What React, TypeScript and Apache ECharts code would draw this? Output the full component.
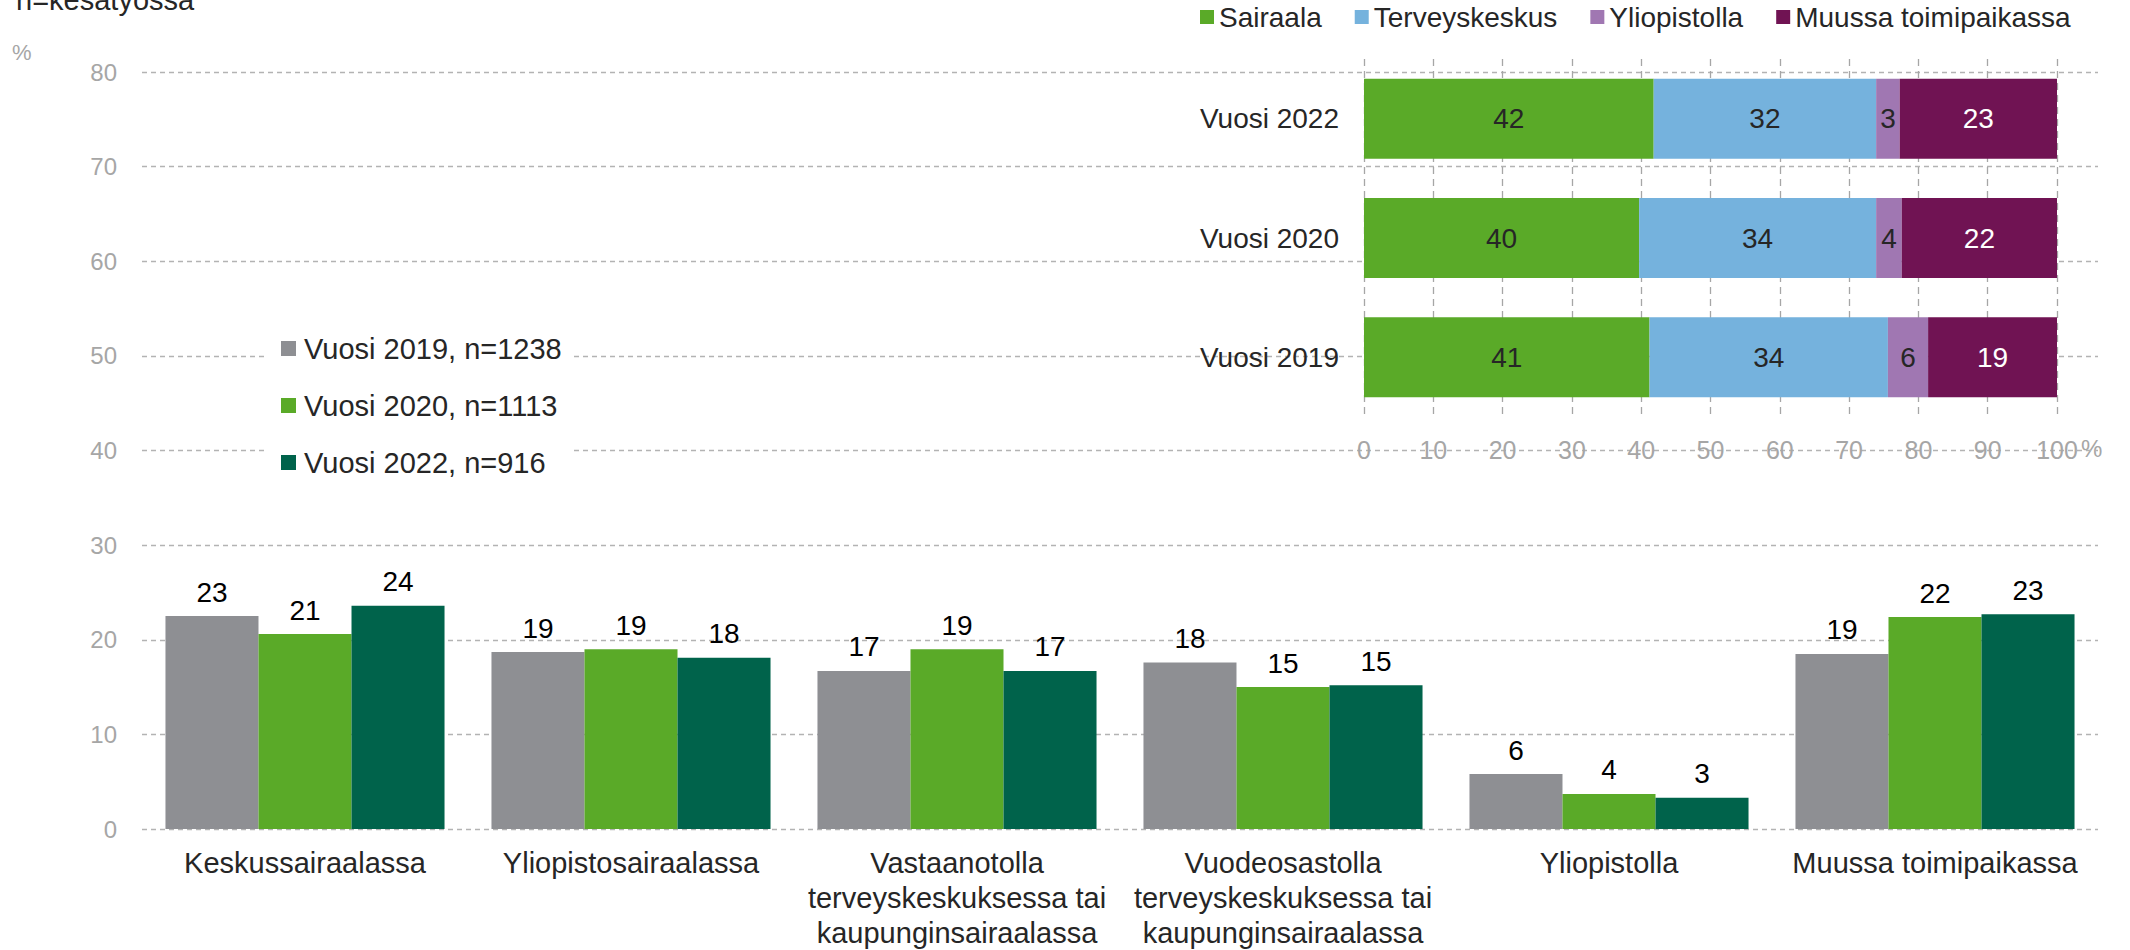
import React, { useEffect, useRef } from "react";
import * as echarts from "echarts";

const FONT = "'Liberation Sans', Arial, sans-serif";

const categories = [
  "Keskussairaalassa",
  "Yliopistosairaalassa",
  "Vastaanotolla\nterveyskeskuksessa tai\nkaupunginsairaalassa",
  "Vuodeosastolla\nterveyskeskuksessa tai\nkaupunginsairaalassa",
  "Yliopistolla",
  "Muussa toimipaikassa",
];
const seriesNames = ["Vuosi 2019, n=1238", "Vuosi 2020, n=1113", "Vuosi 2022, n=916"];
const v2019 = [22.5, 18.7, 16.7, 17.6, 5.8, 18.5];
const v2020 = [20.6, 19.0, 19.0, 15.0, 3.7, 22.4];
const v2022 = [23.6, 18.1, 16.7, 15.2, 3.3, 22.7];
const yTicks = { min: 0, max: 80, interval: 10 };

const insetYears = ["Vuosi 2019", "Vuosi 2020", "Vuosi 2022"];
const insetNames = ["Sairaala", "Terveyskeskus", "Yliopistolla", "Muussa toimipaikassa"];
const sairaala = [41.2, 39.7, 41.8];
const terveyskeskus = [34.4, 34.2, 32.1];
const yliopistolla = [5.8, 3.7, 3.4];
const muussa = [18.6, 22.4, 22.7];
const insetTicks = { min: 0, max: 100, interval: 10 };

const mainColors = ["#8e8f93", "#5aaa28", "#00634b"];
const insetColors = ["#5aaa28", "#75b2dd", "#a077b2", "#701353"];

export default function App() {
  const ref = useRef<HTMLDivElement>(null);
  useEffect(() => {
    if (!ref.current) return;
    const chart = echarts.init(ref.current, null, { renderer: "svg" });
    const mainData = [v2019, v2020, v2022];
    const insetData = [sairaala, terveyskeskus, yliopistolla, muussa];
    const option: any = {
      animation: false,
      backgroundColor: "#ffffff",
      textStyle: { fontFamily: FONT },
      grid: [
        { left: 142, right: 32, top: 72, bottom: 120 },
        { left: 1364, right: 73, top: 59, bottom: 533 },
      ],
      legend: [
        {
          data: seriesNames,
          orient: "vertical",
          left: 267,
          top: 324,
          backgroundColor: "#ffffff",
          padding: [10, 11, 10, 14],
          itemWidth: 15,
          itemHeight: 15,
          itemGap: 28,
          icon: "rect",
          textStyle: {
            fontSize: 29,
            color: "#262626",
            fontFamily: FONT,
            lineHeight: 29,
            padding: [0, 0, 0, 3],
          },
        },
        {
          data: insetNames,
          orient: "horizontal",
          left: 1200,
          top: 3,
          padding: 0,
          itemWidth: 14,
          itemHeight: 14,
          itemGap: 33,
          icon: "rect",
          textStyle: { fontSize: 28, color: "#262626", fontFamily: FONT },
        },
      ],
      xAxis: [
        {
          type: "category",
          gridIndex: 0,
          data: categories,
          axisLine: { show: false },
          axisTick: { show: false },
          axisLabel: {
            interval: 0,
            fontSize: 29,
            lineHeight: 35,
            color: "#262626",
            margin: 16,
            fontFamily: FONT,
          },
        },
        {
          type: "value",
          gridIndex: 1,
          ...insetTicks,
          axisLine: { show: false },
          axisTick: { show: false },
          splitLine: { show: true, lineStyle: { type: [7, 5], color: "#a6a6a6", width: 1.3 } },
          axisLabel: { fontSize: 25, color: "#a6a6a6", margin: 20, fontFamily: FONT },
        },
      ],
      yAxis: [
        {
          type: "value",
          gridIndex: 0,
          ...yTicks,
          axisLine: { show: false },
          axisTick: { show: false },
          axisLabel: { fontSize: 24, color: "#a6a6a6", margin: 25, fontFamily: FONT },
          splitLine: { show: true, lineStyle: { type: [5, 4], color: "#b3b3b3", width: 1.3 } },
        },
        {
          type: "category",
          gridIndex: 1,
          data: insetYears,
          axisLine: { show: false },
          axisTick: { show: false },
          splitLine: { show: false },
          axisLabel: { fontSize: 28, color: "#262626", margin: 25, fontFamily: FONT },
        },
      ],
      graphic: [
        {
          type: "text",
          left: 16,
          top: -15,
          style: { text: "n=kesätyössä", fontSize: 29, fill: "#262626", fontFamily: FONT },
        },
        {
          type: "text",
          left: 12,
          top: 41,
          style: { text: "%", fontSize: 22, fill: "#a6a6a6", fontFamily: FONT },
        },
        {
          type: "text",
          left: 2081,
          top: 436,
          style: { text: "%", fontSize: 24, fill: "#a6a6a6", fontFamily: FONT },
        },
      ],
      series: [
        ...seriesNames.map((name, i) => ({
          name,
          type: "bar",
          xAxisIndex: 0,
          yAxisIndex: 0,
          data: mainData[i],
          barGap: "0%",
          barCategoryGap: "14.4%",
          itemStyle: { color: mainColors[i] },
          label: {
            show: true,
            position: "top",
            distance: 10,
            fontSize: 28,
            color: "#000000",
            fontFamily: FONT,
            formatter: (p: any) => String(Math.round(p.value)),
          },
        })),
        ...insetNames.map((name, i) => ({
          name,
          type: "bar",
          stack: "inset",
          xAxisIndex: 1,
          yAxisIndex: 1,
          data: insetData[i],
          barWidth: 80,
          itemStyle: { color: insetColors[i] },
          label: {
            show: true,
            position: "inside",
            fontSize: 28,
            color: i === 3 ? "#ffffff" : "#262626",
            fontFamily: FONT,
            formatter: (p: any) => String(Math.round(p.value)),
          },
        })),
      ],
    };
    chart.setOption(option);
    return () => chart.dispose();
  }, []);
  return (
    <div
      ref={ref}
      style={{ position: "fixed", left: 0, top: 0, width: 2130, height: 950, background: "#fff" }}
    />
  );
}
